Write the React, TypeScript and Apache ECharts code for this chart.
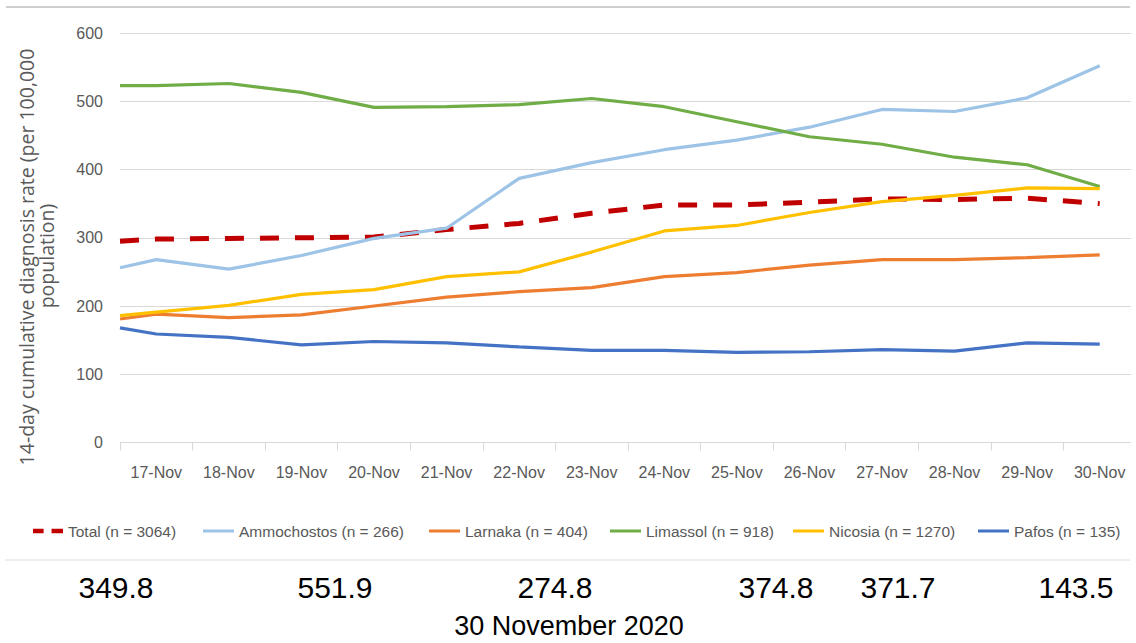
import React, { useEffect, useRef } from 'react';
import * as echarts from 'echarts';

const categories = ['17-Nov', '18-Nov', '19-Nov', '20-Nov', '21-Nov', '22-Nov', '23-Nov', '24-Nov', '25-Nov', '26-Nov', '27-Nov', '28-Nov', '29-Nov', '30-Nov'];

const seriesNames = ['Total (n = 3064)', 'Ammochostos (n = 266)', 'Larnaka (n = 404)', 'Limassol (n = 918)', 'Nicosia (n = 1270)', 'Pafos (n = 135)'];

const totalValues = [298, 299, 300, 301, 312, 321, 336, 348, 348, 352, 357, 356, 358, 350];
const ammochostosValues = [268, 254, 274, 299, 314, 387, 410, 429, 443, 462, 488, 485, 505, 552];
const larnakaValues = [188, 183, 187, 200, 213, 221, 227, 243, 249, 260, 268, 268, 271, 275];
const limassolValues = [523, 526, 513, 491, 492, 495, 504, 492, 470, 448, 437, 418, 407, 375];
const nicosiaValues = [191, 201, 217, 224, 243, 250, 279, 310, 318, 337, 353, 362, 373, 372];
const pafosValues = [159, 154, 143, 148, 146, 140, 135, 135, 132, 133, 136, 134, 146, 144];

// value of each line where it meets the left edge of the plot (line starts before 17-Nov)
const leftEdgeValues = [295, 256, 181, 523, 186, 168];

const bottomValues = ['349.8', '551.9', '274.8', '374.8', '371.7', '143.5'];
const bottomCaption = '30 November 2020';
const yTitleLines = ['14-day cumulative diagnosis rate (per 100,000', 'population)'];

const seriesValues = [totalValues, ammochostosValues, larnakaValues, limassolValues, nicosiaValues, pafosValues];
const seriesColors = ['#C00000', '#9DC3E6', '#ED7D31', '#70AD47', '#FFC000', '#4472C4'];
const legendLefts = [33, 203, 429, 610, 793, 978];
const bottomCenters = [116, 335, 555, 776, 898, 1076];

const SANS = '"Liberation Sans", Arial, sans-serif';
const DASH_ICON = 'path://M0,0h12v5h-12z M21,0h13v5h-13z';

export default function App() {
  const ref = useRef<HTMLDivElement>(null);

  useEffect(() => {
    if (!ref.current) return;
    const chart = echarts.init(ref.current, undefined, { renderer: 'svg' });

    const series = seriesNames.map((name, k) => {
      const isTotal = k === 0;
      return {
        name,
        type: 'line',
        xAxisIndex: 1,
        yAxisIndex: 0,
        symbol: 'none',
        showSymbol: false,
        smooth: false,
        z: 2 + k,
        emphasis: { disabled: true },
        lineStyle: {
          color: seriesColors[k],
          width: isTotal ? 5 : 3.2,
          type: isTotal ? [19, 16] : 'solid',
          cap: 'butt',
        },
        itemStyle: { color: seriesColors[k] },
        data: [[-0.5, leftEdgeValues[k]], ...seriesValues[k].map((v, i) => [i, v])],
      };
    });

    const legends = seriesNames.map((name, k) => ({
      data: [{ name, icon: k === 0 ? DASH_ICON : 'rect' }],
      left: legendLefts[k],
      top: 523,
      padding: 0,
      itemWidth: k === 0 ? 30 : 31,
      itemHeight: k === 0 ? 5 : 3,
      itemGap: 0,
      selectedMode: false,
      itemStyle: { color: seriesColors[k], borderWidth: 0 },
      textStyle: { color: '#595959', fontSize: 15.5, fontFamily: SANS },
    }));

    const graphics: any[] = [
      {
        type: 'line',
        shape: { x1: 6, y1: 7, x2: 1130, y2: 7 },
        style: { stroke: '#bfbfbf', lineWidth: 1.5 },
        z: 100,
      },
      {
        type: 'line',
        shape: { x1: 5, y1: 560, x2: 1130, y2: 560 },
        style: { stroke: '#dcdcdc', lineWidth: 1 },
        z: 100,
      },
      {
        type: 'rect',
        shape: { x: 1131, y: 15, width: 10, height: 440 },
        style: { fill: '#ffffff' },
        z: 100,
      },
      {
        type: 'text',
        x: 26,
        y: 257,
        rotation: Math.PI / 2,
        style: {
          text: yTitleLines[0],
          fill: '#595959',
          font: '19.5px "Open Sans", sans-serif',
          textAlign: 'center',
          textVerticalAlign: 'middle',
        },
        z: 100,
      },
      {
        type: 'text',
        x: 46,
        y: 256,
        rotation: Math.PI / 2,
        style: {
          text: yTitleLines[1],
          fill: '#595959',
          font: '19.5px "Open Sans", sans-serif',
          textAlign: 'center',
          textVerticalAlign: 'middle',
        },
        z: 100,
      },
      ...bottomValues.map((t, i) => ({
        type: 'text',
        x: bottomCenters[i],
        y: 587,
        style: {
          text: t,
          fill: '#000000',
          font: '30px "Liberation Sans", Arial, sans-serif',
          textAlign: 'center',
          textVerticalAlign: 'middle',
        },
        z: 100,
      })),
      {
        type: 'text',
        x: 569,
        y: 626,
        style: {
          text: bottomCaption,
          fill: '#000000',
          font: '27px "Liberation Sans", Arial, sans-serif',
          textAlign: 'center',
          textVerticalAlign: 'middle',
        },
        z: 100,
      },
    ];

    chart.setOption({
      animation: false,
      backgroundColor: '#ffffff',
      grid: { left: 120, top: 33, width: 1019, height: 409.5, containLabel: false },
      legend: legends,
      xAxis: [
        {
          type: 'category',
          data: categories,
          boundaryGap: true,
          gridIndex: 0,
          axisLine: { show: true, lineStyle: { color: '#d9d9d9', width: 1 } },
          axisTick: { show: true, length: 8, interval: 0, lineStyle: { color: '#d9d9d9' } },
          axisLabel: { color: '#595959', fontSize: 16, fontFamily: SANS, margin: 22, interval: 0 },
          splitLine: { show: false },
        },
        {
          type: 'value',
          min: -0.5,
          max: 13.5,
          gridIndex: 0,
          show: false,
          splitLine: { show: false },
        },
      ],
      yAxis: {
        type: 'value',
        min: 0,
        max: 600,
        interval: 100,
        axisLine: { show: false },
        axisTick: { show: false },
        axisLabel: { color: '#595959', fontSize: 16, fontFamily: SANS, margin: 17 },
        splitLine: { lineStyle: { color: '#d9d9d9', width: 1 } },
      },
      graphic: graphics,
      series,
    });

    return () => chart.dispose();
  }, []);

  return (
    <div
      ref={ref}
      style={{ position: 'absolute', left: 0, top: 0, width: 1136, height: 643, background: '#fff' }}
    />
  );
}
